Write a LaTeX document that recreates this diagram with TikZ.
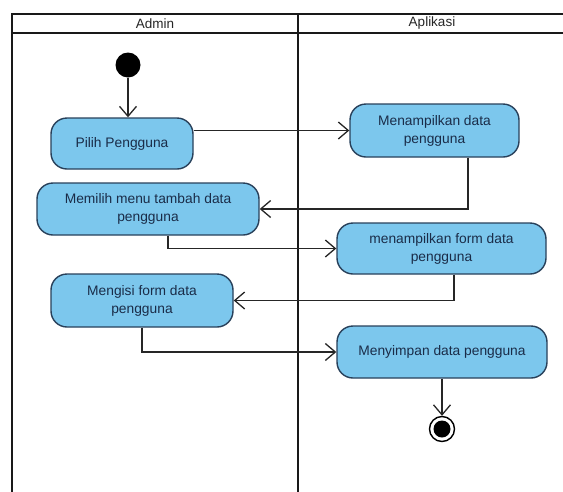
\documentclass[tikz,border=0pt]{standalone}
\usepackage{fontspec}
\setmainfont{Liberation Sans}
\usetikzlibrary{arrows.meta}
\definecolor{actfill}{RGB}{124,199,237}
\definecolor{actline}{RGB}{40,64,90}
\definecolor{acttext}{RGB}{26,44,72}
\tikzset{
  lane/.style={line width=2.4pt, draw=black!90},
  activity/.style={draw=actline, fill=actfill, line width=1.4pt, rounded corners=16pt,
    text=acttext, align=center, inner sep=0pt,
    font=\fontsize{13.8}{18}\selectfont},
  flow/.style={draw=black!85, line width=1.3pt, -{Straight Barb[length=10pt,width=17pt,line width=1.3pt]}},
  lanetitle/.style={font=\fontsize{13.5}{15}\selectfont, text=black!85}
}
\begin{document}
\begin{tikzpicture}[x=1pt,y=-1pt]
\useasboundingbox (0,0) rectangle (563,491);

% swimlane frame
\draw[lane] (12,492) -- (12,14) -- (570,14);
\draw[lane] (12,33) -- (570,33);
\draw[lane] (298,14) -- (298,492);
\node[lanetitle] (laneA) at (155,23.5) {Admin};
\node[lanetitle] (laneB) at (432,23.5) {Aplikasi};

% start and end
\node[circle, fill=black, minimum size=25pt, inner sep=0pt] (start) at (128,65) {};
\node[circle, draw=black, line width=1.4pt, fill=white, minimum size=25pt, inner sep=0pt] (stop) at (442,429) {};
\node[circle, fill=black, minimum size=17pt, inner sep=0pt] (stopdot) at (stop.center) {};

% activities
\node[activity, minimum width=142pt, minimum height=51pt] (pilih) at (122,143.5) {Pilih Pengguna};
\node[activity, minimum width=222pt, minimum height=52pt] (memilih) at (148,209) {Memilih menu tambah data\\pengguna};
\node[activity, minimum width=182pt, minimum height=53pt] (mengisi) at (142,300.5) {Mengisi form data\\pengguna};
\node[activity, minimum width=169pt, minimum height=53pt] (tampil) at (434.5,130.5) {Menampilkan data\\pengguna};
\node[activity, minimum width=209pt, minimum height=51pt] (form) at (441.5,248.5) {menampilkan form data\\pengguna};
\node[activity, minimum width=210pt, minimum height=52pt] (simpan) at (442,352) {Menyimpan data pengguna};

% control flow
\draw[flow] (start) -- (start |- pilih.north);
\draw[flow] (pilih.east |- tampil.west) -- (tampil.west);
\draw[flow] ([xshift=33.5pt]tampil.south) |- (memilih.east);
\draw[flow] ([xshift=20pt]memilih.south) |- (form.west);
\draw[flow] ([xshift=12.5pt]form.south) |- (mengisi.east);
\draw[flow] (mengisi.south) |- (simpan.west);
\draw[flow] (simpan.south) -- (stop.north);
\end{tikzpicture}
\end{document}
